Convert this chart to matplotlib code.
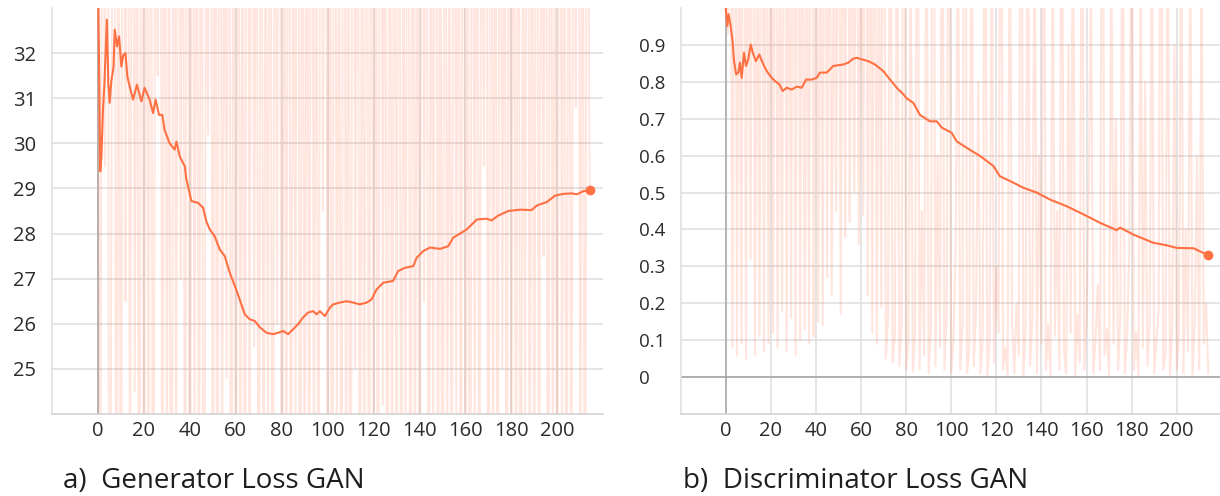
import matplotlib
matplotlib.use("Agg")
import matplotlib.pyplot as plt

plt.rcParams['font.family'] = ['Open Sans', 'DejaVu Sans']

# ---------------- data ----------------
x_ticks = [0, 20, 40, 60, 80, 100, 120, 140, 160, 180, 200]

gen_yticks = [25, 26, 27, 28, 29, 30, 31, 32]
gen_ytick_labels = ["25", "26", "27", "28", "29", "30", "31", "32"]

disc_yticks = [0, 0.1, 0.2, 0.3, 0.4, 0.5, 0.6, 0.7, 0.8, 0.9]
disc_ytick_labels = ["0", "0.1", "0.2", "0.3", "0.4", "0.5", "0.6", "0.7", "0.8", "0.9"]

captions = ["a)  Generator Loss GAN", "b)  Discriminator Loss GAN"]

# smoothed generator loss (step, value)
gen_steps = [0, 1.0, 1.5, 2.2, 2.8, 3.9, 4.5, 5.1, 5.8, 6.8, 7.3, 8.3, 9.2, 10.2, 11.0,
             12.0, 12.8, 14.5, 15.3, 17.0, 18.9, 20.3, 22.5, 24.0, 25.1, 26.6, 28.0,
             29.0, 31.2, 33.4, 34.2, 35.6, 37.8, 38.5, 39.2, 40.7, 43.6, 45.8, 47.2,
             48.7, 50.8, 53.0, 55.2, 57.4, 59.6, 61.7, 63.9, 66.1, 68.3, 70.5, 73.4,
             76.3, 78.4, 80.6, 82.8, 85.0, 87.1, 89.3, 91.5, 93.7, 95.2, 96.6, 98.8,
             101.0, 102.4, 105.3, 108.2, 111.1, 114.0, 117.0, 119.1, 121.3, 124.2,
             128.5, 130.7, 133.6, 137.3, 138.7, 141.6, 144.5, 148.9, 152.5, 154.7,
             158.3, 160.5, 162.7, 164.9, 169.2, 171.4, 174.3, 178.7, 183.7, 188.8,
             191.0, 195.4, 199.0, 202.6, 206.3, 208.5, 211.3, 214.0]
gen_smooth = [34.0, 29.38, 29.7, 30.75, 31.3, 32.74, 31.34, 30.9, 31.37, 31.7, 32.52,
              32.15, 32.37, 31.7, 31.95, 32.0, 31.48, 31.12, 30.97, 31.3, 30.93, 31.23,
              30.97, 30.67, 30.97, 30.63, 30.63, 30.3, 30.0, 29.86, 30.04, 29.71, 29.49,
              29.2, 29.05, 28.72, 28.68, 28.57, 28.27, 28.09, 27.94, 27.65, 27.5, 27.13,
              26.84, 26.54, 26.21, 26.1, 26.06, 25.92, 25.8, 25.77, 25.8, 25.84, 25.77,
              25.88, 25.99, 26.14, 26.25, 26.28, 26.21, 26.28, 26.17, 26.36, 26.43,
              26.47, 26.5, 26.47, 26.43, 26.47, 26.54, 26.76, 26.91, 26.95, 27.17,
              27.24, 27.28, 27.46, 27.61, 27.69, 27.66, 27.72, 27.91, 28.02, 28.09,
              28.2, 28.31, 28.33, 28.29, 28.4, 28.5, 28.53, 28.52, 28.62, 28.7, 28.84,
              28.88, 28.89, 28.87, 28.94, 28.96]

# raw generator loss, one value per step 0..214
gen_raw = [
    34.5, 18, 45, 29.5, 52, 12, 31, 48, 16, 40, 14, 50, 26.5, 44, 19, 47, 24.5, 38, 15, 49,
    17, 43, 21, 46, 13, 39, 31.5, 51, 18, 42, 22, 37, 11, 48, 20, 44, 27, 41, 16, 53,
    14, 47, 23, 40, 19, 45, 12, 36, 30.2, 49, 17, 43, 15, 50, 21, 38, 24.8, 46, 13, 42,
    18, 44, 20, 39, 16, 51, 22, 47, 25.5, 41, 14, 48, 19, 37, 23, 45, 12, 43, 26, 50,
    15, 40, 21, 46, 17, 38, 24, 52, 13, 44, 20, 41, 18, 47, 22, 39, 16, 45, 28.5, 49,
    19, 42, 14, 48, 23, 37, 17, 46, 21, 40, 12, 51, 25, 43, 18, 39, 20, 47, 15, 44,
    22, 38, 16, 50, 24.2, 41, 13, 45, 19, 42, 21, 47, 17, 36, 23, 49, 14, 43, 20, 40,
    18, 46, 26.5, 44, 15, 39, 22, 51, 17, 41, 13, 48, 21, 37, 19, 45, 24, 42, 16, 50,
    20, 38, 14, 47, 23, 43, 18, 40, 29.5, 46, 12, 49, 21, 41, 17, 44, 25, 39, 15, 48,
    22, 42, 19, 45, 13, 37, 24, 50, 16, 43, 20, 47, 18, 40, 27.5, 44, 14, 46, 21, 39,
    17, 48, 23, 41, 15, 45, 19, 38, 30.8, 47, 20, 42, 16, 44, 29,
]

# smoothed discriminator loss (step, value)
disc_steps = [0, 0.7, 1.3, 2.2, 3.1, 3.7, 4.6, 5.6, 6.3, 7.1, 8.1, 9.0, 10.0, 11.1, 12.0,
              13.4, 14.9, 16.7, 18.2, 20.4, 21.9, 23.8, 25.3, 27.0, 29.3, 31.5, 33.7,
              35.6, 38.1, 40.4, 41.8, 44.8, 47.7, 52.2, 54.4, 56.6, 58.1, 60.3, 63.2,
              66.2, 69.9, 72.9, 75.8, 78.8, 80.3, 83.2, 86.2, 90.6, 93.6, 95.8, 100.2,
              102.4, 106.9, 112.8, 118.7, 121.6, 127.5, 132.0, 137.9, 143.8, 151.2,
              158.6, 166.0, 173.4, 174.9, 180.8, 189.6, 195.6, 200.0, 207.5, 214.0]
disc_smooth = [1.0, 0.951, 0.983, 0.951, 0.906, 0.856, 0.82, 0.825, 0.852, 0.811, 0.879,
               0.843, 0.861, 0.901, 0.879, 0.856, 0.874, 0.847, 0.829, 0.811, 0.802,
               0.793, 0.775, 0.784, 0.779, 0.787, 0.784, 0.806, 0.806, 0.811, 0.825,
               0.825, 0.843, 0.847, 0.852, 0.863, 0.865, 0.861, 0.856, 0.847, 0.829,
               0.806, 0.784, 0.766, 0.755, 0.743, 0.71, 0.693, 0.693, 0.676, 0.662,
               0.639, 0.621, 0.599, 0.572, 0.544, 0.527, 0.513, 0.5, 0.481, 0.463,
               0.441, 0.418, 0.398, 0.405, 0.386, 0.364, 0.357, 0.35, 0.349, 0.33]

# raw discriminator loss, one value per step 0..214
disc_raw = [
    1.0, 0.93, 1.8, 0.08, 2.2, 0.06, 1.5, 0.09, 2.6, 0.05, 1.7, 0.32, 2.0, 0.06, 1.4, 0.11, 2.3, 0.07, 1.9, 0.09,
    1.6, 0.12, 2.1, 0.08, 1.3, 0.18, 2.4, 0.07, 1.5, 0.16, 1.9, 0.06, 2.2, 0.1, 1.7, 0.13, 1.4, 0.09, 2.5, 0.11,
    1.8, 0.15, 1.5, 0.14, 2.0, 0.27, 1.6, 0.22, 1.3, 0.45, 1.9, 0.17, 1.7, 0.38, 2.2, 0.42, 1.5, 0.5, 1.8, 0.36,
    1.4, 0.44, 2.1, 0.22, 1.6, 0.12, 1.9, 0.09, 1.3, 0.19, 2.3, 0.05, 0.16, 1.7, 0.04, 0.11, 1.5, 0.03, 0.14, 2.0,
    0.02, 0.09, 1.2, 0.015, 0.12, 1.8, 0.02, 0.45, 0.06, 1.4, 0.01, 0.13, 2.2, 0.03, 0.6, 0.08, 1.6, 0.02, 0.17, 1.9,
    0.01, 0.1, 0.35, 1.3, 0.02, 0.14, 2.4, 0.01, 0.07, 1.5, 0.03, 0.18, 0.8, 0.01, 0.11, 1.7, 0.005, 0.09, 1.2, 0.04,
    0.3, 0.12, 1.9, 0.02, 0.08, 0.005, 1.4, 0.15, 0.01, 0.2, 0.06, 2.1, 0.005, 0.13, 1.5, 0.03, 0.16, 1.3, 0.01, 0.6,
    0.09, 1.8, 0.02, 0.14, 0.005, 1.2, 0.11, 0.45, 0.02, 1.6, 0.07, 0.01, 0.9, 0.12, 1.4, 0.005, 0.17, 0.04, 1.7, 0.02,
    0.15, 0.5, 1.1, 0.01, 0.1, 0.25, 0.02, 1.9, 0.06, 0.13, 0.005, 1.2, 0.09, 0.7, 0.02, 0.16, 1.5, 0.01, 0.11, 0.35,
    1.6, 0.02, 0.12, 0.005, 1.1, 0.08, 0.8, 0.03, 0.14, 1.3, 0.01, 0.1, 0.18, 1.8, 0.02, 0.06, 1.3, 0.005, 0.13, 0.9,
    0.02, 0.11, 1.4, 0.01, 0.4, 0.07, 1.2, 0.005, 0.15, 0.6, 0.02, 1.1, 0.09, 0.2, 0.01,
]

# ---------------- style ----------------
ORANGE = '#ff7043'
GRID = '#dedede'
TEXT = '#2b2b2b'

fig = plt.figure(figsize=(12.2, 4.96), dpi=100)
W, H = 1220.0, 496.0

ax1 = fig.add_axes([52 / W, (H - 414) / H, (603.3 - 52) / W, (414 - 8) / H])
ax2 = fig.add_axes([680.6 / W, (H - 414) / H, (1220 - 680.6) / W, (414 - 8) / H])


def style(ax, xlim, ylim, yticks, ylabels, ypad, yfs):
    ax.set_xlim(*xlim)
    ax.set_ylim(*ylim)
    ax.set_xticks(x_ticks)
    ax.set_xticklabels([str(t) for t in x_ticks])
    ax.set_yticks(yticks)
    ax.set_yticklabels(ylabels)
    ax.grid(True, color=GRID, lw=1.1)
    ax.set_axisbelow(True)
    for s in ('top', 'right'):
        ax.spines[s].set_visible(False)
    ax.spines['left'].set_color(GRID)
    ax.spines['left'].set_linewidth(1.1)
    ax.spines['bottom'].set_color('#cfcfcf')
    ax.spines['bottom'].set_linewidth(1.1)
    ax.tick_params(length=0, labelcolor=TEXT)
    ax.tick_params(axis='x', pad=5, labelsize=14.5)
    ax.tick_params(axis='y', pad=ypad, labelsize=yfs)
    for lbl in ax.get_yticklabels():
        lbl.set_horizontalalignment('left')
    ax.axvline(0, color='#a8a8a8', lw=1.1, zorder=1.5)


# generator
style(ax1, (-20, 220), (24, 33), gen_yticks, gen_ytick_labels, 28.3, 14.5)
ax1.plot(range(len(gen_raw)), gen_raw, color=ORANGE, alpha=0.18, lw=1.35, zorder=2)
ax1.plot(gen_steps, gen_smooth, color=ORANGE, lw=1.5, zorder=3)
ax1.plot(gen_steps[-1:], gen_smooth[-1:], 'o', color=ORANGE, ms=6, zorder=4)

# discriminator
style(ax2, (-20, 219.2), (-0.1, 1.0), disc_yticks, disc_ytick_labels, 29.7, 13.5)
ax2.axhline(0, color='#a0a0a0', lw=1.1, zorder=1.5)
ax2.plot(range(len(disc_raw)), disc_raw, color=ORANGE, alpha=0.18, lw=1.5, zorder=2)
ax2.plot(disc_steps, disc_smooth, color=ORANGE, lw=1.5, zorder=3)
ax2.plot(disc_steps[-1:], disc_smooth[-1:], 'o', color=ORANGE, ms=6, zorder=4)

fig.text(62.7 / W, (H - 488) / H, captions[0], fontsize=20, color='#1e1e1e',
         ha='left', va='baseline')
fig.text(683.3 / W, (H - 488) / H, captions[1], fontsize=20, color='#1e1e1e',
         ha='left', va='baseline')

fig.savefig('out.png', dpi=100)
